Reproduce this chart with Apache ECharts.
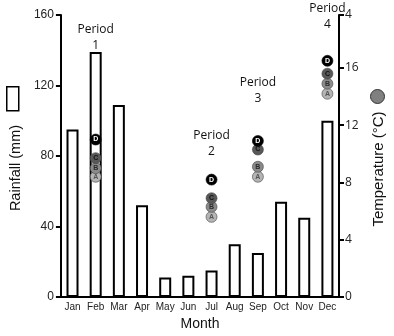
<!DOCTYPE html>
<html>
<head>
<meta charset="utf-8">
<script src="https://cdn.jsdelivr.net/npm/echarts@6/dist/echarts.min.js"></script>
<style>
html,body{margin:0;padding:0;background:#fff;}
#chart{width:394px;height:336px;}
</style>
</head>
<body>
<div id="chart"></div>
<script>
// Monthly rainfall (mm)
const months = ['Jan','Feb','Mar','Apr','May','Jun','Jul','Aug','Sep','Oct','Nov','Dec'];
const rainfall = [95, 139, 109, 52, 11, 12, 15, 30, 25, 54, 45, 100];

// Temperature (°C) readings A–D for each sampling period
const periodMonths = ['Feb','Jul','Sep','Dec'];
const periodNames = ['Period\n1','Period\n2','Period\n3','Period\n4'];
const periodLabelAt = [18.1, 10.7, 14.4, 19.6];
const tempA = [8.4, 5.6, 8.4, 14.2];
const tempB = [9.0, 6.3, 9.1, 14.9];
const tempC = [9.7, 6.9, 10.3, 15.6];
const tempD = [11.0, 8.2, 10.9, 16.5];

const rainTicks = { min: 0, max: 160, interval: 40 };
const tempTickLabels = ['0','4','8','12','16','4'];

const readings = [
  { letter: 'A', values: tempA, fill: '#b4b4b4', text: '#555' },
  { letter: 'B', values: tempB, fill: '#8a8a8a', text: '#2a2a2a' },
  { letter: 'C', values: tempC, fill: '#585858', text: '#111' },
  { letter: 'D', values: tempD, fill: '#000000', text: '#fff' }
];

const chart = echarts.init(document.getElementById('chart'));

const series = [
  {
    name: 'Rainfall',
    type: 'bar',
    data: rainfall,
    barWidth: 12,
    itemStyle: { color: '#fff', borderColor: '#000', borderWidth: 2 },
    silent: true
  }
];

readings.forEach(r => {
  series.push({
    name: r.letter === 'A' ? 'Temperature' : 'Temperature ' + r.letter,
    type: 'scatter',
    yAxisIndex: 1,
    symbol: 'circle',
    symbolSize: 11,
    z: 5,
    itemStyle: {
      color: r.fill,
      borderColor: r.letter === 'D' ? '#000' : '#444',
      borderWidth: 0.6,
      opacity: 1
    },
    label: {
      show: true,
      position: 'inside',
      formatter: r.letter,
      fontFamily: 'Liberation Sans',
      fontSize: 7,
      fontWeight: 'bold',
      color: r.text
    },
    data: periodMonths.map((m, i) => [m, r.values[i]])
  });
});

// Period captions sit on invisible anchor points
series.push({
  name: 'Periods',
  type: 'scatter',
  yAxisIndex: 1,
  symbol: 'circle',
  symbolSize: 2,
  itemStyle: { color: 'rgba(0,0,0,0)', opacity: 1 },
  silent: true,
  z: 6,
  label: {
    show: true,
    position: 'inside',
    formatter: p => periodNames[p.dataIndex],
    fontFamily: 'Open Sans',
    fontSize: 12,
    lineHeight: 16,
    color: '#111',
    align: 'center'
  },
  data: periodMonths.map((m, i) => [m, periodLabelAt[i]])
});

chart.setOption({
  animation: false,
  backgroundColor: '#fff',
  grid: { left: 48, right: 49, top: 15, bottom: 38 },
  legend: [
    {
      left: 1, top: 81,
      orient: 'vertical',
      itemWidth: 12, itemHeight: 24,
      formatter: () => '',
      selectedMode: false,
      data: [{ name: 'Rainfall', icon: 'rect', itemStyle: { color: '#fff', borderColor: '#000', borderWidth: 1.5 } }]
    },
    {
      left: 365, top: 84,
      orient: 'vertical',
      itemWidth: 14, itemHeight: 14,
      formatter: () => '',
      selectedMode: false,
      data: [{ name: 'Temperature', icon: 'circle', itemStyle: { color: '#808080', borderColor: '#333', borderWidth: 1 } }]
    }
  ],
  xAxis: {
    type: 'category',
    data: months,
    name: 'Month',
    nameLocation: 'middle',
    nameGap: 20,
    nameTextStyle: { fontFamily: 'Liberation Sans', fontSize: 14, color: '#111' },
    axisLine: { lineStyle: { color: '#000', width: 2 } },
    axisTick: { show: false },
    axisLabel: { interval: 0, fontFamily: 'Liberation Sans', fontSize: 10, color: '#222', margin: 5 }
  },
  yAxis: [
    {
      type: 'value',
      min: rainTicks.min, max: rainTicks.max, interval: rainTicks.interval,
      name: 'Rainfall (mm)',
      nameLocation: 'middle',
      nameGap: 28,
      nameRotate: 90,
      nameTextStyle: { fontFamily: 'Liberation Sans', fontSize: 14.5, color: '#111', padding: [0, 24, 0, 0] },
      axisLine: { show: true, lineStyle: { color: '#000', width: 2 } },
      axisTick: { show: true, length: 5, lineStyle: { color: '#000', width: 2 } },
      axisLabel: { fontFamily: 'Liberation Sans', fontSize: 12, color: '#222', margin: 7 },
      splitLine: { show: false }
    },
    {
      type: 'value',
      position: 'right',
      min: 0, max: 19.7, interval: 4,
      name: 'Temperature (\u00B0C)',
      nameLocation: 'middle',
      nameGap: 32,
      nameRotate: 90,
      nameTextStyle: { fontFamily: 'Liberation Sans', fontSize: 15, color: '#111', padding: [0, 26, 0, 0] },
      axisLine: { show: true, lineStyle: { color: '#000', width: 2 } },
      axisTick: { show: true, length: 5, lineStyle: { color: '#000', width: 2 } },
      axisLabel: {
        fontFamily: 'Open Sans', fontSize: 12, color: '#222', margin: 6,
        formatter: (v, i) => tempTickLabels[i]
      },
      splitLine: { show: false }
    }
  ],
  series: series
});
</script>
</body>
</html>
